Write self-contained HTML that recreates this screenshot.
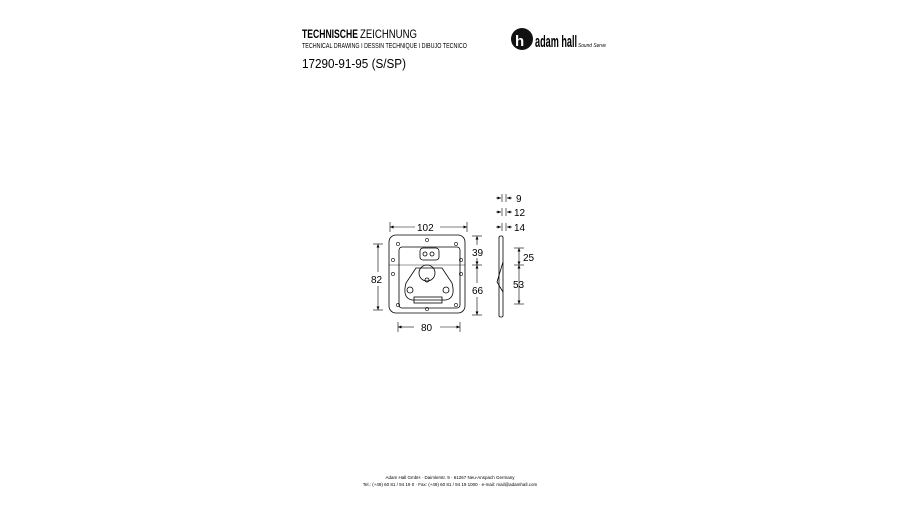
<!DOCTYPE html>
<html><head><style>
body{margin:0;width:900px;height:500px;background:#fff;overflow:hidden;font-family:"Liberation Sans",sans-serif}
</style></head><body>
<svg width="900" height="500" viewBox="0 0 900 500" xmlns="http://www.w3.org/2000/svg" font-family="Liberation Sans, sans-serif">
<defs><marker id="a" markerWidth="6" markerHeight="6" refX="6" refY="3" orient="auto-start-reverse"><path d="M0,0.5L6,3L0,5.5z" fill="#000"/></marker></defs>
<text x="302" y="38" font-size="12" font-weight="bold" textLength="56" lengthAdjust="spacingAndGlyphs">TECHNISCHE</text>
<text x="360" y="38" font-size="12" textLength="57" lengthAdjust="spacingAndGlyphs">ZEICHNUNG</text>
<text x="302" y="48" font-size="7" textLength="165" lengthAdjust="spacingAndGlyphs">TECHNICAL DRAWING I DESSIN TECHNIQUE I DIBUJO TECNICO</text>
<text x="302" y="68" font-size="13" textLength="104" lengthAdjust="spacingAndGlyphs">17290-91-95 (S/SP)</text>
<circle cx="522" cy="39" r="11" fill="#111"/>
<text x="515" y="46" font-size="15" fill="#fff" font-weight="bold">h</text>
<text x="535" y="47" font-size="17" font-weight="bold" textLength="42" lengthAdjust="spacingAndGlyphs">adam hall</text>
<text x="578" y="47" font-size="5" font-style="italic" textLength="28" lengthAdjust="spacingAndGlyphs">Sound Serve</text>
<g fill="none" stroke="#000" stroke-width="0.8">
<rect x="389" y="235" width="76" height="78" rx="7"/>
<rect x="399" y="247" width="61" height="61" rx="3"/>
<line x1="389" y1="265" x2="465" y2="265" stroke-width="0.4"/>
<rect x="420" y="248" width="19" height="12" rx="3"/>
<circle cx="425" cy="254" r="2"/><circle cx="432" cy="254" r="2"/>
<path d="M416,268 L406,283 Q402,298 412,300 L446,300 Q456,298 452,283 L442,268 Z"/>
<circle cx="427" cy="273" r="8"/>
<circle cx="410" cy="290" r="3"/><circle cx="446" cy="290" r="3"/><circle cx="427" cy="280" r="2"/>
<rect x="414" y="297" width="28" height="6"/>
<g stroke-width="0.6">
<circle cx="398" cy="244" r="1.6"/><circle cx="427" cy="240" r="1.6"/><circle cx="456" cy="244" r="1.6"/>
<circle cx="393" cy="260" r="1.6"/><circle cx="461" cy="260" r="1.6"/>
<circle cx="393" cy="274" r="1.6"/><circle cx="461" cy="274" r="1.6"/>
<circle cx="398" cy="305" r="1.6"/><circle cx="427" cy="309" r="1.6"/><circle cx="456" cy="305" r="1.6"/>
</g>
<rect x="499" y="236" width="4" height="81" rx="1.5"/>
<path d="M503,262 L497,282 L503,292"/>
</g>
<g stroke="#000" stroke-width="0.6" fill="none">
<line x1="390" y1="227" x2="415" y2="227" marker-start="url(#a)"/><line x1="440" y1="227" x2="467" y2="227" marker-end="url(#a)"/>
<line x1="390" y1="222" x2="390" y2="232"/><line x1="467" y1="222" x2="467" y2="232"/>
<line x1="378" y1="244" x2="378" y2="272" marker-start="url(#a)"/><line x1="378" y1="286" x2="378" y2="310" marker-end="url(#a)"/>
<line x1="373" y1="244" x2="383" y2="244"/><line x1="373" y1="310" x2="383" y2="310"/>
<line x1="398" y1="327" x2="414" y2="327" marker-start="url(#a)"/><line x1="440" y1="327" x2="460" y2="327" marker-end="url(#a)"/>
<line x1="398" y1="322" x2="398" y2="332"/><line x1="460" y1="322" x2="460" y2="332"/>
<line x1="477" y1="236" x2="477" y2="245" marker-start="url(#a)"/><line x1="477" y1="258" x2="477" y2="265" marker-end="url(#a)"/>
<line x1="477" y1="265" x2="477" y2="283" marker-start="url(#a)"/><line x1="477" y1="297" x2="477" y2="315" marker-end="url(#a)"/>
<line x1="472" y1="236" x2="482" y2="236"/><line x1="472" y1="265" x2="482" y2="265"/><line x1="472" y1="315" x2="482" y2="315"/>
<line x1="519" y1="248" x2="519" y2="265" marker-start="url(#a)" marker-end="url(#a)"/>
<line x1="519" y1="265" x2="519" y2="304" marker-start="url(#a)" marker-end="url(#a)"/>
<line x1="514" y1="248" x2="524" y2="248"/><line x1="514" y1="265" x2="524" y2="265"/><line x1="514" y1="304" x2="524" y2="304"/>
<g>
<line x1="496" y1="198" x2="501" y2="198" marker-end="url(#a)"/><line x1="512" y1="198" x2="507" y2="198" marker-end="url(#a)"/>
<line x1="502" y1="194" x2="502" y2="202"/><line x1="506" y1="194" x2="506" y2="202"/>
<line x1="496" y1="212" x2="501" y2="212" marker-end="url(#a)"/><line x1="512" y1="212" x2="507" y2="212" marker-end="url(#a)"/>
<line x1="502" y1="208" x2="502" y2="216"/><line x1="506" y1="208" x2="506" y2="216"/>
<line x1="496" y1="227" x2="501" y2="227" marker-end="url(#a)"/><line x1="512" y1="227" x2="507" y2="227" marker-end="url(#a)"/>
<line x1="502" y1="223" x2="502" y2="231"/><line x1="506" y1="223" x2="506" y2="231"/>
</g>
</g>
<g font-size="10" fill="#000">
<text x="417" y="231">102</text>
<text x="371" y="283">82</text>
<text x="421" y="331">80</text>
<text x="472" y="256">39</text>
<text x="472" y="294">66</text>
<text x="523" y="261">25</text>
<text x="513" y="288">53</text>
<text x="516" y="202">9</text>
<text x="514" y="216">12</text>
<text x="514" y="231">14</text>
</g>
<text x="450" y="479" font-size="4.5" text-anchor="middle">Adam Hall GmbH · Daimlerstr. 9 · 61267 Neu-Anspach Germany</text>
<text x="450" y="486" font-size="4.5" text-anchor="middle">Tel.: (+49) 60 81 / 94 19 0 · Fax: (+49) 60 81 / 94 19 1000 · e-mail: mail@adamhall.com</text>
</svg>
</body></html>
